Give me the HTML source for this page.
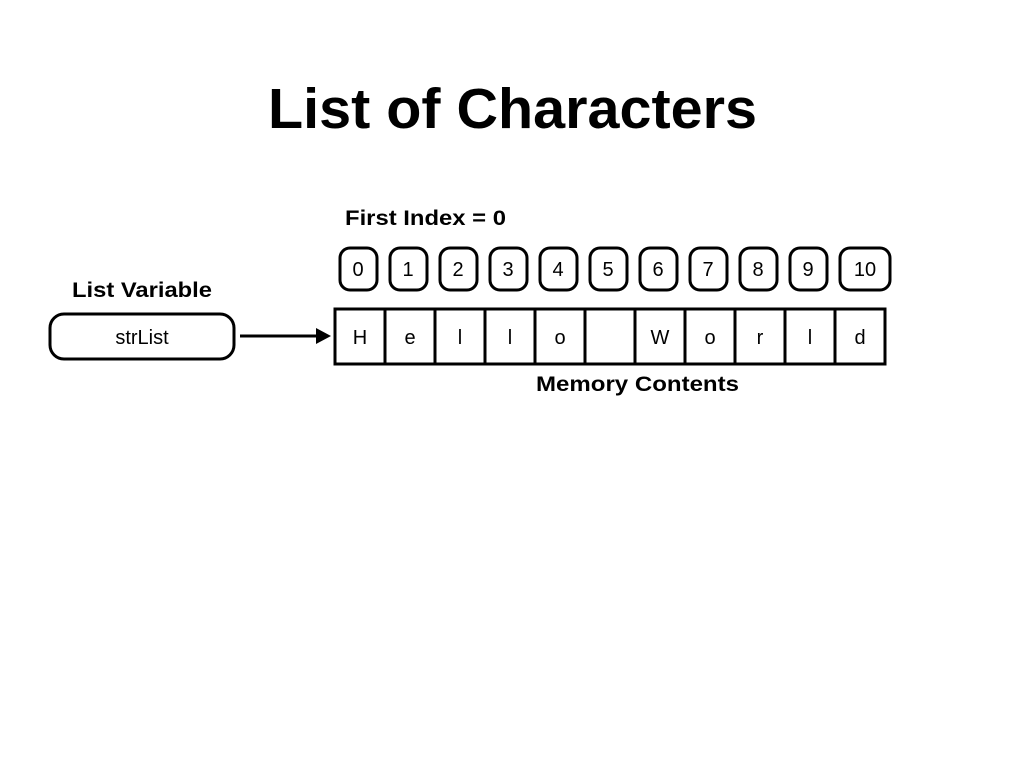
<!DOCTYPE html>
<html><head><style>body{margin:0;background:#fff}svg{display:block}</style></head><body>
<svg width="1024" height="768" xmlns="http://www.w3.org/2000/svg" font-family="Liberation Sans, Arial, sans-serif">
<text x="268" y="128" font-size="57" font-weight="bold" textLength="489" lengthAdjust="spacingAndGlyphs">List of Characters</text>
<text x="345" y="225" font-size="21" font-weight="bold" textLength="161" lengthAdjust="spacingAndGlyphs">First Index = 0</text>
<text x="72" y="297" font-size="21" font-weight="bold" textLength="140" lengthAdjust="spacingAndGlyphs">List Variable</text>
<text x="536" y="391" font-size="21" font-weight="bold" textLength="203" lengthAdjust="spacingAndGlyphs">Memory Contents</text>
<rect x="50" y="314" width="184" height="45" rx="14" fill="none" stroke="#000" stroke-width="3"/>
<text x="142" y="344" font-size="20" text-anchor="middle">strList</text>
<line x1="240" y1="336" x2="318" y2="336" stroke="#000" stroke-width="3"/>
<polygon points="316,328 331,336 316,344" fill="#000"/>
<g fill="none" stroke="#000" stroke-width="3">
<rect x="335" y="309" width="550" height="55"/>
<line x1="385" y1="309" x2="385" y2="364"/><line x1="435" y1="309" x2="435" y2="364"/>
<line x1="485" y1="309" x2="485" y2="364"/><line x1="535" y1="309" x2="535" y2="364"/>
<line x1="585" y1="309" x2="585" y2="364"/><line x1="635" y1="309" x2="635" y2="364"/>
<line x1="685" y1="309" x2="685" y2="364"/><line x1="735" y1="309" x2="735" y2="364"/>
<line x1="785" y1="309" x2="785" y2="364"/><line x1="835" y1="309" x2="835" y2="364"/>
<rect x="340" y="248" width="37" height="42" rx="10"/><rect x="390" y="248" width="37" height="42" rx="10"/>
<rect x="440" y="248" width="37" height="42" rx="10"/><rect x="490" y="248" width="37" height="42" rx="10"/>
<rect x="540" y="248" width="37" height="42" rx="10"/><rect x="590" y="248" width="37" height="42" rx="10"/>
<rect x="640" y="248" width="37" height="42" rx="10"/><rect x="690" y="248" width="37" height="42" rx="10"/>
<rect x="740" y="248" width="37" height="42" rx="10"/><rect x="790" y="248" width="37" height="42" rx="10"/>
<rect x="840" y="248" width="50" height="42" rx="10"/>
</g>
<g font-size="20" text-anchor="middle">
<text x="358" y="276">0</text><text x="408" y="276">1</text><text x="458" y="276">2</text><text x="508" y="276">3</text>
<text x="558" y="276">4</text><text x="608" y="276">5</text><text x="658" y="276">6</text><text x="708" y="276">7</text>
<text x="758" y="276">8</text><text x="808" y="276">9</text><text x="865" y="276">10</text>
<text x="360" y="344">H</text><text x="410" y="344">e</text><text x="460" y="344">l</text><text x="510" y="344">l</text>
<text x="560" y="344">o</text><text x="660" y="344">W</text><text x="710" y="344">o</text><text x="760" y="344">r</text>
<text x="810" y="344">l</text><text x="860" y="344">d</text>
</g>
</svg>
</body></html>
